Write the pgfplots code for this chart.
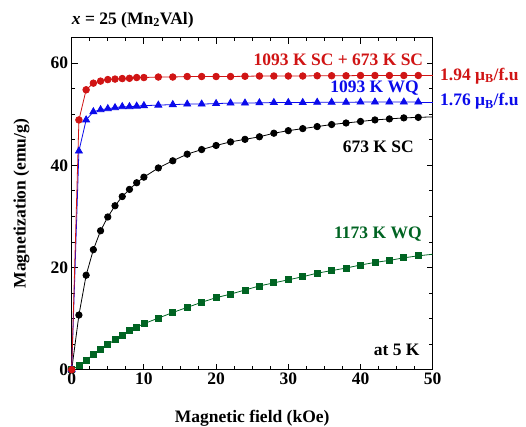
\documentclass[border=0pt]{standalone}
\usepackage{pgfplots}
\pgfplotsset{compat=1.18}
\usepackage{fontspec}
\setmainfont{Liberation Serif}

\definecolor{cRed}{RGB}{208,20,20}
\definecolor{cBlue}{RGB}{10,10,235}
\definecolor{cGreen}{RGB}{0,100,34}

\newcommand{\lbl}{\fontsize{17.5}{20}\selectfont\bfseries}

\begin{document}
\begin{tikzpicture}
\begin{axis}[
  scale only axis,
  width=361pt, height=332pt,
  xmin=0, xmax=50, ymin=0, ymax=65,
  xtick={0,10,20,30,40,50},
  ytick={0,20,40,60},
  minor x tick num=3,
  minor y tick num=3,
  major tick length=6pt,
  minor tick length=3.5pt,
  tick style={black, line width=0.9pt},
  axis line style={line width=1.1pt},
  /pgf/number format/assume math mode=true,
  tick label style={font=\lbl},
  label style={font=\lbl},
  xlabel={Magnetic field (kOe)},
  ylabel={Magnetization (emu/g)},
  xlabel style={at={(axis description cs:0.5,-0.145)}, anchor=center},
  ylabel style={at={(axis description cs:-0.139,0.5)}, anchor=center},
  clip=false,
]
% 1173 K water-quenched
\addplot[cGreen, line width=0.8pt, mark=square*, mark size=3pt, mark options={solid}] coordinates {
(0,0)(1,0.8)(2,1.8)(3,3.0)(4,4.0)(5,4.9)(6,5.9)(7,6.8)(8,7.7)(9,8.3)(10,9.0)
(12,10.1)(14,11.2)(16,12.2)(18,13.2)(20,14.1)(22,14.8)(24,15.6)(26,16.4)(28,17.0)
(30,17.6)(32,18.2)(34,18.9)(36,19.4)(38,19.9)(40,20.5)(42,21.0)(44,21.4)(46,21.9)(48,22.3)};
\addplot[cGreen, line width=0.8pt, no marks] coordinates {(48,22.3)(50,22.6)};
% 673 K slow-cooled
\addplot[black, line width=0.8pt, mark=*, mark size=3.2pt] coordinates {
(0,0)(1,10.7)(2,18.5)(3,23.5)(4,27.2)(5,29.9)(6,32.1)(7,33.9)(8,35.3)(9,36.6)(10,37.7)
(12,39.5)(14,40.9)(16,42.2)(18,43.1)(20,43.9)(22,44.6)(24,45.1)(26,45.6)(28,46.3)
(30,46.8)(32,47.2)(34,47.6)(36,48.0)(38,48.3)(40,48.6)(42,48.9)(44,49.1)(46,49.3)(48,49.4)};
\addplot[black, line width=0.8pt, no marks] coordinates {(48,49.4)(50,49.5)};
% 1093 K water-quenched
\addplot[cBlue, line width=0.8pt, mark=triangle*, mark size=4pt] coordinates {
(0,0)(1,42.8)(2,48.9)(3,50.5)(4,50.9)(5,51.1)(6,51.3)(7,51.5)(8,51.5)(9,51.6)(10,51.7)
(12,51.8)(14,51.9)(16,52.0)(18,52.0)(20,52.1)(22,52.2)(24,52.2)(26,52.25)(28,52.3)
(30,52.3)(32,52.3)(34,52.35)(36,52.35)(38,52.35)(40,52.4)(42,52.4)(44,52.4)(46,52.4)(48,52.4)};
\addplot[cBlue, line width=0.8pt, no marks] coordinates {(48,52.4)(50,52.4)};
% 1093 K slow-cooled + 673 K slow-cooled
\addplot[cRed, line width=0.8pt, mark=*, mark size=3.3pt] coordinates {
(0,0)(1,48.9)(2,54.8)(3,56.1)(4,56.5)(5,56.8)(6,56.9)(7,57.0)(8,57.05)(9,57.2)(10,57.2)
(12,57.3)(14,57.3)(16,57.4)(18,57.4)(20,57.4)(22,57.4)(24,57.45)(26,57.5)(28,57.5)
(30,57.5)(32,57.5)(34,57.55)(36,57.55)(38,57.55)(40,57.6)(42,57.6)(44,57.6)(46,57.6)(48,57.6)};
\addplot[cRed, line width=0.8pt, no marks] coordinates {(48,57.6)(50,57.6)};

% curve labels
\node[anchor=east, inner sep=0pt, font=\lbl, text=cRed]   at (axis cs:48.7,60.7) {1093 K SC + 673 K SC};
\node[anchor=east, inner sep=0pt, font=\lbl, text=cBlue]  at (axis cs:48.1,55.2) {1093 K WQ};
\node[anchor=east, inner sep=0pt, font=\lbl, text=black]  at (axis cs:47.4,43.7) {673 K SC};
\node[anchor=east, inner sep=0pt, font=\lbl, text=cGreen] at (axis cs:48.5,26.5) {1173 K WQ};
\node[anchor=east, inner sep=0pt, font=\lbl, text=black]  at (axis cs:48.2,3.8) {at 5 K};
\node[anchor=west, inner sep=0pt, font=\lbl, text=cRed]   at (axis cs:51.0,57.5) {1.94 μ\textsubscript{B}/f.u};
\node[anchor=west, inner sep=0pt, font=\lbl, text=cBlue]  at (axis cs:51.0,52.5) {1.76 μ\textsubscript{B}/f.u};
% title
\node[anchor=west, inner sep=0pt, font=\lbl] at (axis cs:0,68.5) {\textit{x} = 25 (Mn\textsubscript{2}VAl)};

\coordinate (ll) at (rel axis cs:0,0);
\coordinate (ur) at (rel axis cs:1,1);
\end{axis}
\pgfresetboundingbox
\path[use as bounding box] ([xshift=-71.7pt,yshift=-57pt]ll) rectangle ([xshift=93.3pt,yshift=37.7pt]ur);
\end{tikzpicture}
\end{document}
